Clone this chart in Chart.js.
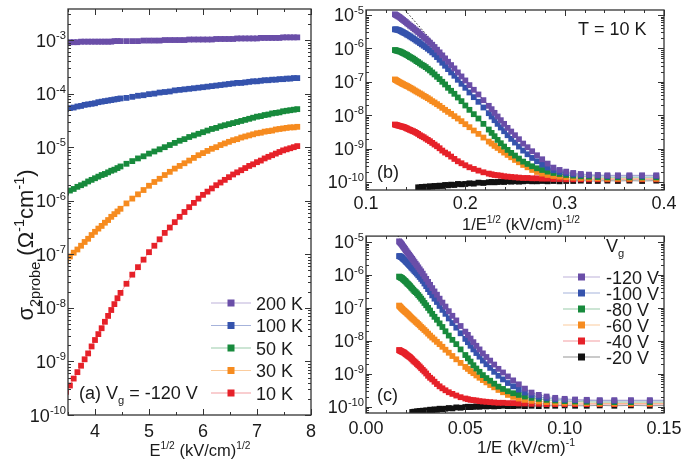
<!DOCTYPE html>
<html>
<head>
<meta charset="utf-8">
<script src="https://cdn.jsdelivr.net/npm/chart.js@4.4.1/dist/chart.umd.min.js"></script>
<style>
  html, body { margin: 0; padding: 0; background: #fff; }
  #wrap { position: relative; width: 685px; height: 464px; overflow: hidden; }
  canvas { position: absolute; }
</style>
</head>
<body>
<div id="wrap">
  <canvas id="chartA" width="330" height="464" style="left:0px;top:0px"></canvas>
  <canvas id="chartB" width="365" height="240" style="left:320px;top:0px"></canvas>
  <canvas id="chartC" width="365" height="232" style="left:320px;top:232px"></canvas>
</div>
<script>
// applied field E (kV/cm) of every measured point
const fieldE = [6.5, 7, 7.5, 8, 8.5, 9, 9.5, 10, 10.5, 11, 11.5, 12, 12.5, 13, 13.5, 14, 14.5, 15, 15.5, 16, 16.5, 17, 17.5, 18, 18.5, 19, 19.5, 20,
  21, 22, 23, 24, 25, 26, 27, 28, 29, 30, 31, 32, 33, 34, 35, 36, 37, 38, 39, 40,
  41, 42, 43, 44, 45, 46, 47, 48, 49, 50, 51, 52, 53, 54, 55, 56, 57, 58, 59, 60]

// log10 of sigma_2probe at T = 10 K, one list per gate voltage (same order as fieldE)
const logVg120 = [-9.80, -9.80, -9.80, -9.80, -9.80, -9.79, -9.78, -9.76, -9.73, -9.69, -9.64, -9.57, -9.45, -9.32, -9.20, -9.08, -8.96, -8.85, -8.72, -8.60, -8.49, -8.38, -8.26, -8.15, -8.04, -7.93, -7.82, -7.72,
  -7.55, -7.38, -7.24, -7.10, -6.96, -6.84, -6.72, -6.60, -6.50, -6.40,
  -6.30, -6.21, -6.12, -6.04, -5.96, -5.89, -5.83, -5.77, -5.71, -5.66,
  -5.61, -5.56, -5.51, -5.47, -5.43, -5.39, -5.35, -5.32, -5.28, -5.25,
  -5.21, -5.18, -5.15, -5.12, -5.09, -5.06, -5.04, -5.02, -5.00, -4.98]
const logVg100 = [-9.82, -9.82, -9.82, -9.82, -9.82, -9.81, -9.80, -9.79, -9.77, -9.74, -9.70, -9.65, -9.57, -9.48, -9.38, -9.28, -9.17, -9.06, -8.94, -8.82, -8.71, -8.60, -8.48, -8.37, -8.26, -8.15, -8.04, -7.94,
  -7.77, -7.60, -7.46, -7.32, -7.18, -7.06, -6.94, -6.82, -6.72, -6.62,
  -6.52, -6.43, -6.34, -6.26, -6.18, -6.12, -6.06, -6.01, -5.96, -5.92,
  -5.88, -5.84, -5.80, -5.77, -5.73, -5.70, -5.67, -5.64, -5.61, -5.59,
  -5.56, -5.54, -5.52, -5.50, -5.48, -5.46, -5.45, -5.44, -5.43, -5.43]
const logVg80 = [-9.86, -9.86, -9.86, -9.86, -9.86, -9.85, -9.84, -9.83, -9.81, -9.79, -9.76, -9.73, -9.69, -9.64, -9.59, -9.53, -9.46, -9.39, -9.30, -9.21, -9.13, -9.04, -8.94, -8.84, -8.74, -8.63, -8.53, -8.43,
  -8.26, -8.10, -7.97, -7.84, -7.71, -7.58, -7.47, -7.36, -7.27, -7.18,
  -7.08, -7.00, -6.92, -6.85, -6.78, -6.72, -6.66, -6.61, -6.56, -6.52,
  -6.49, -6.45, -6.41, -6.38, -6.34, -6.31, -6.28, -6.26, -6.23, -6.20,
  -6.18, -6.16, -6.14, -6.12, -6.10, -6.09, -6.08, -6.07, -6.06, -6.05]
const logVg60 = [-9.90, -9.90, -9.90, -9.90, -9.90, -9.89, -9.88, -9.88, -9.87, -9.86, -9.84, -9.82, -9.79, -9.75, -9.70, -9.64, -9.56, -9.49, -9.41, -9.34, -9.26, -9.19, -9.12, -9.05, -8.98, -8.92, -8.85, -8.79,
  -8.67, -8.56, -8.46, -8.36, -8.27, -8.18, -8.10, -8.03, -7.96, -7.90,
  -7.84, -7.78, -7.72, -7.67, -7.62, -7.58, -7.53, -7.49, -7.45, -7.42,
  -7.38, -7.35, -7.32, -7.29, -7.26, -7.23, -7.20, -7.18, -7.15, -7.13,
  -7.11, -7.09, -7.07, -7.05, -7.03, -7.01, -6.99, -6.97, -6.95, -6.93]
const logVg40 = [-9.92, -9.92, -9.92, -9.92, -9.92, -9.92, -9.92, -9.92, -9.92, -9.92, -9.91, -9.91, -9.90, -9.90, -9.89, -9.89, -9.88, -9.88, -9.87, -9.86, -9.85, -9.84, -9.83, -9.81, -9.80, -9.79, -9.77, -9.75,
  -9.71, -9.66, -9.61, -9.56, -9.50, -9.44, -9.38, -9.31, -9.24, -9.17,
  -9.12, -9.06, -8.99, -8.93, -8.88, -8.83, -8.78, -8.74, -8.70, -8.66,
  -8.63, -8.60, -8.56, -8.53, -8.50, -8.48, -8.46, -8.44, -8.42, -8.40,
  -8.38, -8.36, -8.35, -8.34, -8.33, -8.32, -8.31, -8.30, -8.29, -8.28]
const logVg20 = [-9.96, -9.97, -9.96, -9.97, -9.96, -9.97, -9.97, -9.96, -9.97, -9.97, -9.98, -9.97, -9.98, -9.97, -9.98, -9.98, -9.97, -9.98, -9.99, -9.98, -9.99, -9.98, -10.00, -9.99, -10.00, -10.01, -10.00, -10.01,
  -10.03, -10.02, -10.05, -10.04, -10.06, -10.07, -10.06, -10.09, -10.08, -10.10,
  -10.09, -10.12, -10.11, -10.13, -10.12, -10.14, -10.13, -10.15, -10.14, -10.16,
  -10.15, -10.17, -10.16, null, null, null, null, null, null, null,
  null, null, null, null, null, null, null, null, null, null]

// panel (a): Vg = -120 V at several temperatures, E from 12 kV/cm up (10 K is logVg120)
const tempE = fieldE.slice(11)
const logT200 = [-3.04, -3.04, -3.04, -3.04, -3.03, -3.03, -3.03, -3.03, -3.03, -3.03, -3.03, -3.03, -3.03, -3.03, -3.02, -3.02, -3.02,
  -3.02, -3.02, -3.02, -3.01, -3.01, -3.01, -3.01, -3.00, -3.00, -3.00,
  -3.00, -3.00, -2.99, -2.99, -2.99, -2.99, -2.99, -2.99, -2.98, -2.98,
  -2.98, -2.98, -2.98, -2.97, -2.97, -2.97, -2.97, -2.97, -2.97, -2.96,
  -2.96, -2.96, -2.96, -2.96, -2.96, -2.95, -2.95, -2.95, -2.95, -2.95]
const logT100 = [-4.29, -4.27, -4.26, -4.24, -4.23, -4.21, -4.20, -4.19, -4.18, -4.16, -4.15, -4.14, -4.13, -4.12, -4.11, -4.10, -4.09,
  -4.08, -4.06, -4.04, -4.03, -4.01, -4.00, -3.98, -3.97, -3.96, -3.94,
  -3.93, -3.92, -3.91, -3.90, -3.89, -3.88, -3.87, -3.86, -3.85, -3.84,
  -3.83, -3.82, -3.81, -3.80, -3.80, -3.79, -3.78, -3.77, -3.77, -3.76,
  -3.75, -3.75, -3.74, -3.74, -3.73, -3.73, -3.72, -3.72, -3.71, -3.71]
const logT50 = [-5.85, -5.81, -5.78, -5.74, -5.71, -5.68, -5.64, -5.61, -5.58, -5.55, -5.52, -5.50, -5.47, -5.44, -5.42, -5.39, -5.36,
  -5.31, -5.26, -5.21, -5.17, -5.12, -5.08, -5.04, -5.00, -4.96, -4.92,
  -4.88, -4.85, -4.81, -4.78, -4.75, -4.72, -4.69, -4.66, -4.64, -4.61,
  -4.59, -4.57, -4.55, -4.53, -4.51, -4.49, -4.47, -4.45, -4.43, -4.42,
  -4.40, -4.39, -4.37, -4.36, -4.35, -4.33, -4.32, -4.31, -4.30, -4.29]
const logT30 = [-7.12, -7.04, -6.97, -6.91, -6.84, -6.77, -6.71, -6.64, -6.58, -6.52, -6.47, -6.41, -6.36, -6.30, -6.25, -6.20, -6.15,
  -6.05, -5.96, -5.88, -5.80, -5.72, -5.65, -5.59, -5.52, -5.46, -5.40,
  -5.35, -5.30, -5.25, -5.20, -5.15, -5.11, -5.07, -5.03, -5.00, -4.96,
  -4.93, -4.90, -4.87, -4.85, -4.82, -4.80, -4.78, -4.76, -4.74, -4.73,
  -4.71, -4.70, -4.69, -4.67, -4.66, -4.65, -4.64, -4.63, -4.63, -4.62]

// dotted straight-line fits drawn in (b) and (c)
const fitB_x = [0.13, 0.25]
const fitB_log = [-4.54, -8.62]
const fitC_x = [0.013, 0.045]
const fitC_log = [-4.55, -7.35]

const gateLabels = ['-120 V', '-100 V', '-80 V', '-60 V', '-40 V', '-20 V']
const tempLabels = ['200 K', '100 K', '50 K', '30 K', '10 K']
const colors = ['#6a4ea8', '#3553ad', '#178a3c', '#f68b1f', '#e62129', '#111111']

const xTicksA = [4, 5, 6, 7, 8]
const xTicksB = [0.1, 0.2, 0.3, 0.4]
const xTicksC = [0, 0.05, 0.1, 0.15]
const yTicksA = [1e-10, 1e-9, 1e-8, 1e-7, 1e-6, 1e-5, 1e-4, 1e-3]
const yTicksBC = [1e-10, 1e-9, 1e-8, 1e-7, 1e-6, 1e-5]

const FONT = '"Liberation Sans", Arial, Helvetica, sans-serif'
Chart.defaults.font.family = FONT
Chart.defaults.color = '#1a1a1a'

const toPoints = (es, logs, tx) => es
  .map((e, i) => logs[i] == null ? null : { x: tx(e), y: Math.pow(10, logs[i]) })
  .filter(p => p)

const series = (label, data, color) => ({
  label, data, showLine: true,
  borderColor: color + '70', borderWidth: 1,
  pointStyle: 'rect', pointRadius: 4.1, pointBackgroundColor: color, pointBorderWidth: 0,
  clip: 0
})
const fitLine = (xs, logs) => ({
  label: 'fit', data: xs.map((x, i) => ({ x, y: Math.pow(10, logs[i]) })), showLine: true,
  borderColor: '#222', borderWidth: 1, borderDash: [1.5, 2], pointRadius: 0, clip: 0
})

// text with raised / lowered parts: [text, 'sup' | 'sub' | '']
function rich(ctx, parts, x, y, size, align, ratio) {
  const small = size * (ratio || 0.62)
  const widthOf = ([t, m]) => { ctx.font = `${m ? small : size}px ${FONT}`; return ctx.measureText(t).width }
  const total = parts.reduce((s, p) => s + widthOf(p), 0)
  let cx = align === 'center' ? x - total / 2 : align === 'right' ? x - total : x
  ctx.textAlign = 'left'
  ctx.textBaseline = 'alphabetic'
  for (const p of parts) {
    const w = widthOf(p)
    const dy = p[1] === 'sup' ? -size * 0.42 : p[1] === 'sub' ? size * 0.3 : 0
    ctx.fillText(p[0], cx, y + dy)
    cx += w
  }
}

function frame(chart, step) {
  const { ctx, chartArea: a, scales: { x, y } } = chart
  ctx.strokeStyle = '#333'
  ctx.lineWidth = 1
  ctx.beginPath()
  for (let k = Math.ceil(x.min / step - 1e-6); k * step <= x.max + 1e-9; k++) {
    const v = k * step
    const len = x.ticks.some(t => Math.abs(t.value - v) < step / 10) ? 6 : 3
    const px = Math.round(x.getPixelForValue(v)) + 0.5
    ctx.moveTo(px, a.bottom); ctx.lineTo(px, a.bottom - len)
    ctx.moveTo(px, a.top); ctx.lineTo(px, a.top + len)
  }
  for (let e = Math.floor(Math.log10(y.min)); e <= Math.ceil(Math.log10(y.max)); e++) {
    for (let m = 1; m < 10; m++) {
      const v = m * Math.pow(10, e)
      if (v < y.min || v > y.max) continue
      const py = Math.round(y.getPixelForValue(v)) + 0.5
      const len = m === 1 ? 6 : 3
      ctx.moveTo(a.left, py); ctx.lineTo(a.left + len, py)
      ctx.moveTo(a.right, py); ctx.lineTo(a.right - len, py)
    }
  }
  ctx.stroke()
  ctx.lineWidth = 1.3
  ctx.strokeRect(a.left, a.top, a.right - a.left, a.bottom - a.top)
  // decade labels of the log axis, 10 with a raised exponent
  ctx.fillStyle = '#1a1a1a'
  y.ticks.forEach(t => {
    const exp = String(Math.round(Math.log10(t.value)))
    rich(ctx, [['10', ''], [exp, 'sup']], a.left - 2, y.getPixelForValue(t.value) + 6.5, 18, 'right')
  })
}

function legend(ctx, chart, rows, x0, x1, textX, size) {
  chart.data.datasets.forEach((ds, i) => {
    if (rows[i] == null) return
    const yy = rows[i]
    ctx.strokeStyle = ds.borderColor
    ctx.lineWidth = 1
    ctx.beginPath(); ctx.moveTo(x0, yy); ctx.lineTo(x1, yy); ctx.stroke()
    ctx.fillStyle = ds.pointBackgroundColor
    ctx.fillRect((x0 + x1) / 2 - 3.5, yy - 3.5, 7, 7)
    ctx.fillStyle = '#1a1a1a'
    ctx.font = `${size}px ${FONT}`
    ctx.textAlign = 'left'
    ctx.textBaseline = 'alphabetic'
    ctx.fillText(ds.label, textX, yy + size * 0.37)
  })
}

function makeChart(id, datasets, o) {
  return new Chart(document.getElementById(id), {
    type: 'scatter',
    data: { datasets },
    options: {
      responsive: false,
      animation: false,
      events: [],
      layout: { padding: o.padding },
      plugins: { legend: { display: false }, tooltip: { enabled: false } },
      scales: {
        x: {
          type: 'linear', min: o.xMin, max: o.xMax,
          grid: { display: false, drawTicks: false }, border: { display: false },
          ticks: { padding: o.xPad, font: { size: 18 }, color: '#1a1a1a', maxRotation: 0, autoSkip: false, callback: o.xFmt },
          afterBuildTicks: s => { s.ticks = o.xTicks.map(value => ({ value })) },
          afterFit: s => { s.height = o.xh; s.paddingLeft = 0; s.paddingRight = 0 }
        },
        y: {
          type: 'logarithmic', min: o.yMin, max: o.yMax,
          grid: { display: false, drawTicks: false }, border: { display: false },
          ticks: { display: false },
          afterBuildTicks: s => { s.ticks = o.yTicks.map(value => ({ value })) },
          afterFit: s => { s.width = o.yw; s.paddingTop = 0; s.paddingBottom = 0 }
        }
      }
    },
    plugins: [{
      id: 'decor',
      afterDraw: chart => {
        const ctx = chart.ctx
        ctx.save()
        frame(chart, o.minorStep)
        o.draw(ctx, chart)
        ctx.restore()
      }
    }]
  })
}

// (a) temperature dependence
const rootE = e => Math.sqrt(e)
const setA = [
  series(tempLabels[0], toPoints(tempE, logT200, rootE), colors[0]),
  series(tempLabels[1], toPoints(tempE, logT100, rootE), colors[1]),
  series(tempLabels[2], toPoints(tempE, logT50, rootE), colors[2]),
  series(tempLabels[3], toPoints(tempE, logT30, rootE), colors[3]),
  series(tempLabels[4], toPoints(fieldE, logVg120, rootE), colors[4])
]
makeChart('chartA', setA, {
  padding: { left: 0, top: 9, right: 19, bottom: 0 }, yw: 68, xh: 49,
  xMin: 3.5, xMax: 8, xTicks: xTicksA, xFmt: v => String(v), xPad: 6, minorStep: 0.5,
  yMin: 1e-10, yMax: 3.8e-3, yTicks: yTicksA,
  draw: (ctx, chart) => {
    legend(ctx, chart, [303, 325.5, 348, 370.5, 393], 211, 251, 256, 18)
    ctx.fillStyle = '#1a1a1a'
    rich(ctx, [['(a)', '']], 79, 399, 18)
    rich(ctx, [['V', ''], ['g', 'sub'], [' = -120 V', '']], 106, 399, 18)
    rich(ctx, [['E', ''], ['1/2', 'sup'], [' (kV/cm)', ''], ['1/2', 'sup']], 200, 456, 16.5, 'center')
    ctx.save()
    ctx.translate(33, 245)
    ctx.rotate(-Math.PI / 2)
    rich(ctx, [['\u03C3', ''], ['2probe', 'sub'], [' (\u03A9', ''], ['-1', 'sup'], ['cm', ''], ['-1', 'sup'], [')', '']], 0, 0, 22, 'center', 0.66)
    ctx.restore()
  }
})

// (b) and (c) gate-voltage dependence at 10 K
const gateLogs = [logVg120, logVg100, logVg80, logVg60, logVg40, logVg20]
const invRootE = e => 1 / Math.sqrt(e)
const invE = e => 1 / e
const setB = gateLogs.map((l, i) => series(gateLabels[i], toPoints(fieldE, l, invRootE), colors[i]))
setB.push(fitLine(fitB_x, fitB_log))
const setC = gateLogs.map((l, i) => series(gateLabels[i], toPoints(fieldE, l, invE), colors[i]))
setC.push(fitLine(fitC_x, fitC_log))

makeChart('chartB', setB, {
  padding: { left: 0, top: 10, right: 21, bottom: 0 }, yw: 46, xh: 50,
  xMin: 0.1, xMax: 0.4, xTicks: xTicksB, xFmt: v => v.toFixed(1), xPad: 3, minorStep: 0.02,
  yMin: 5.75e-11, yMax: 1.41e-5, yTicks: yTicksBC,
  draw: (ctx) => {
    ctx.fillStyle = '#1a1a1a'
    rich(ctx, [['T = 10 K', '']], 258, 35, 18)
    rich(ctx, [['(b)', '']], 57, 178, 18)
    rich(ctx, [['1/E', ''], ['1/2', 'sup'], [' (kV/cm)', ''], ['-1/2', 'sup']], 201, 230, 16.5, 'center')
  }
})

makeChart('chartC', setC, {
  padding: { left: 0, top: 2, right: 21, bottom: 0 }, yw: 46, xh: 51,
  xMin: 0, xMax: 0.15, xTicks: xTicksC, xFmt: v => v.toFixed(2), xPad: 5, minorStep: 0.01,
  yMin: 6.46e-11, yMax: 1.51e-5, yTicks: yTicksBC,
  draw: (ctx, chart) => {
    ctx.fillStyle = '#1a1a1a'
    rich(ctx, [['(c)', '']], 57, 169, 18)
    rich(ctx, [['V', ''], ['g', 'sub']], 286, 20, 18)
    legend(ctx, chart, [45, 61, 77, 93, 109, 125], 243, 280, 286, 18)
    rich(ctx, [['1/E (kV/cm)', ''], ['-1', 'sup']], 206, 221, 17, 'center')
  }
})
</script>
</body>
</html>
